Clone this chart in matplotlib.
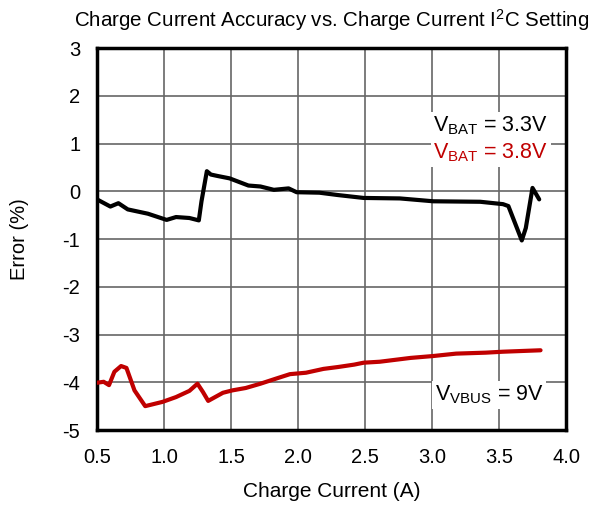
import matplotlib
matplotlib.use("Agg")
import matplotlib.pyplot as plt
from matplotlib import rc

rc("font", **{"family": "Liberation Sans", "size": 14.5})
rc("mathtext", default="regular")
rc("axes", unicode_minus=False)

# V_BAT = 3.3V (black)
x_33 = [0.50, 0.60, 0.66, 0.73, 0.88, 1.02, 1.09, 1.19, 1.26, 1.28, 1.32, 1.35,
        1.40, 1.49, 1.63, 1.72, 1.82, 1.93, 1.99, 2.16, 2.30, 2.49, 2.76, 3.01,
        3.36, 3.53, 3.57, 3.67, 3.70, 3.75, 3.80]
y_33 = [-0.17, -0.32, -0.25, -0.38, -0.47, -0.60, -0.54, -0.56, -0.61, -0.21, 0.42, 0.35,
        0.32, 0.27, 0.12, 0.10, 0.03, 0.06, -0.02, -0.03, -0.08, -0.14, -0.15, -0.21,
        -0.22, -0.27, -0.31, -1.03, -0.77, 0.07, -0.17]

# V_BAT = 3.8V (red)
x_38 = [0.50, 0.55, 0.59, 0.63, 0.68, 0.72, 0.78, 0.86, 0.99, 1.09, 1.19, 1.25,
        1.29, 1.33, 1.44, 1.51, 1.61, 1.72, 1.84, 1.94, 2.06, 2.19, 2.30, 2.42,
        2.49, 2.61, 2.84, 3.01, 3.18, 3.40, 3.53, 3.81]
y_38 = [-4.01, -3.99, -4.06, -3.78, -3.66, -3.70, -4.17, -4.50, -4.41, -4.31, -4.18, -4.03,
        -4.20, -4.39, -4.22, -4.17, -4.12, -4.03, -3.92, -3.83, -3.80, -3.72, -3.68, -3.63,
        -3.59, -3.57, -3.49, -3.45, -3.40, -3.38, -3.36, -3.33]

x_ticks = [0.5, 1.0, 1.5, 2.0, 2.5, 3.0, 3.5, 4.0]
y_ticks = [3, 2, 1, 0, -1, -2, -3, -4, -5]

fig = plt.figure(figsize=(6.06, 5.08), dpi=100)
ax = fig.add_axes([0.160, 0.1535, 0.774, 0.752])

ax.plot(x_33, y_33, color="black", linewidth=3, solid_joinstyle="round",
        solid_capstyle="round", zorder=3)
ax.plot(x_38, y_38, color="#c00000", linewidth=3, solid_joinstyle="round",
        solid_capstyle="round", zorder=3)

ax.set_xlim(0.5, 4.0)
ax.set_ylim(-5, 3)
ax.set_xticks(x_ticks)
ax.set_xticklabels(["%.1f" % t for t in x_ticks])
ax.set_yticks(y_ticks)
ax.grid(True, color="#666666", linewidth=1.2, zorder=0)
ax.tick_params(axis="x", length=0, pad=13)
ax.tick_params(axis="y", length=0, pad=12)
for s in ax.spines.values():
    s.set_linewidth(2.5)
    s.set_color("black")

box = dict(facecolor="white", edgecolor="none", pad=2)
ax.text(3.01, 1.37, "V$_{BAT}$ = 3.3V", color="black", ha="left", va="center",
        fontsize=15.5, bbox=box, zorder=4)
ax.text(3.01, 0.80, "V$_{BAT}$ = 3.8V", color="#c00000", ha="left", va="center",
        fontsize=15.5, bbox=box, zorder=4)
ax.text(3.02, -4.27, "V$_{VBUS}$ = 9V", color="black", ha="left", va="center",
        fontsize=15.5, bbox=box, zorder=4)

ax.set_title("Charge Current Accuracy vs. Charge Current I$^2$C Setting",
             fontsize=14.8, pad=15)
ax.set_xlabel("Charge Current (A)", fontsize=15)
ax.set_ylabel("Error (%)", fontsize=14.5)
ax.xaxis.set_label_coords(0.5, -0.135)
ax.yaxis.set_label_coords(-0.145, 0.5)

fig.savefig("out.png", dpi=100)
